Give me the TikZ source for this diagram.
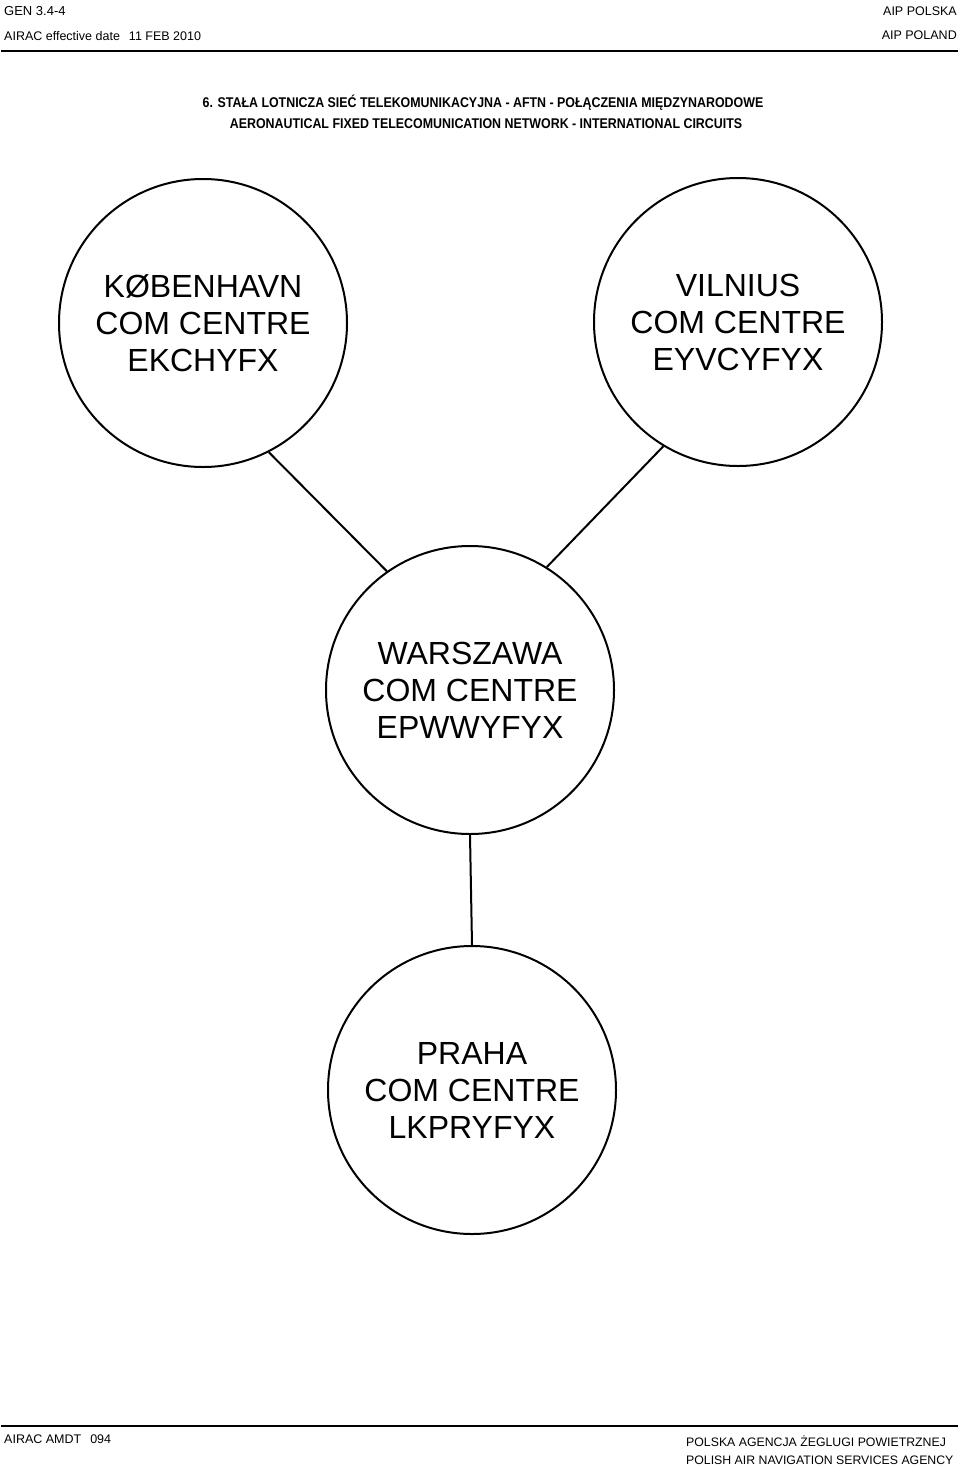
\documentclass[tikz,border=0pt]{standalone}
\usepackage{fontspec}
\setmainfont{Liberation Sans}
\newfontfamily\narrowfont[FakeStretch=0.88]{Liberation Sans}
\usetikzlibrary{positioning}

\tikzset{
  centre/.style={circle, draw, line width=2pt, minimum size=288pt, inner sep=0pt,
    align=center, font=\fontsize{32}{37}\selectfont},
  link/.style={line width=2pt},
  small/.style={font=\fontsize{12.5}{15}\selectfont, inner sep=0pt}
}

\begin{document}
\begin{tikzpicture}[x=1pt, y=-1pt]
  \useasboundingbox (0,0) rectangle (960,1467);
  % page header
  \node[small, anchor=base west, font=\fontsize{13}{15}\selectfont] (gen) at (4,15) {GEN 3.4-4};
  \node[small, anchor=base west] (eff) at (4,40) {AIRAC effective date\hspace{9pt}11 FEB 2010};
  \node[small, anchor=base east] (aippl) at (957,15) {AIP POLSKA};
  \node[small, anchor=base east] (aipen) at (957,39) {AIP POLAND};
  \draw[line width=2.5pt] (1,51) -- (958,51);
  % title
  \node[anchor=base, inner sep=0pt, font=\narrowfont\bfseries\fontsize{14.1}{17}\selectfont] (title1) at (483,107)
    {6. STAŁA LOTNICZA SIEĆ TELEKOMUNIKACYJNA - AFTN - POŁĄCZENIA MIĘDZYNARODOWE};
  \node[anchor=base, inner sep=0pt, font=\narrowfont\bfseries\fontsize{14.1}{17}\selectfont] (title2) at (486,128)
    {AERONAUTICAL FIXED TELECOMUNICATION NETWORK - INTERNATIONAL CIRCUITS};
  % com centres
  \node[centre] (kobenhavn) at (203,323) {KØBENHAVN\\COM CENTRE\\EKCHYFX};
  \node[centre] (vilnius) at (738,322) {VILNIUS\\COM CENTRE\\EYVCYFYX};
  \node[centre] (warszawa) at (470,690) {WARSZAWA\\COM CENTRE\\EPWWYFYX};
  \node[centre] (praha) at (472,1090) {PRAHA\\COM CENTRE\\LKPRYFYX};
  % circuits
  \draw[link] (kobenhavn.-63) -- (warszawa.125);
  \draw[link] (vilnius.-121) -- (warszawa.58);
  \draw[link] (warszawa.south) -- (praha.north);
  % page footer
  \draw[line width=2.5pt] (1,1426) -- (958,1426);
  \node[small, anchor=base west] (amdt) at (4,1443) {AIRAC AMDT\hspace{9pt}094};
  \node[small, anchor=base west, font=\fontsize{12.3}{15}\selectfont] (pazp) at (686,1446) {POLSKA AGENCJA ŻEGLUGI POWIETRZNEJ};
  \node[small, anchor=base west, font=\fontsize{12.3}{15}\selectfont] (pansa) at (686,1464) {POLISH AIR NAVIGATION SERVICES AGENCY};
\end{tikzpicture}
\end{document}
